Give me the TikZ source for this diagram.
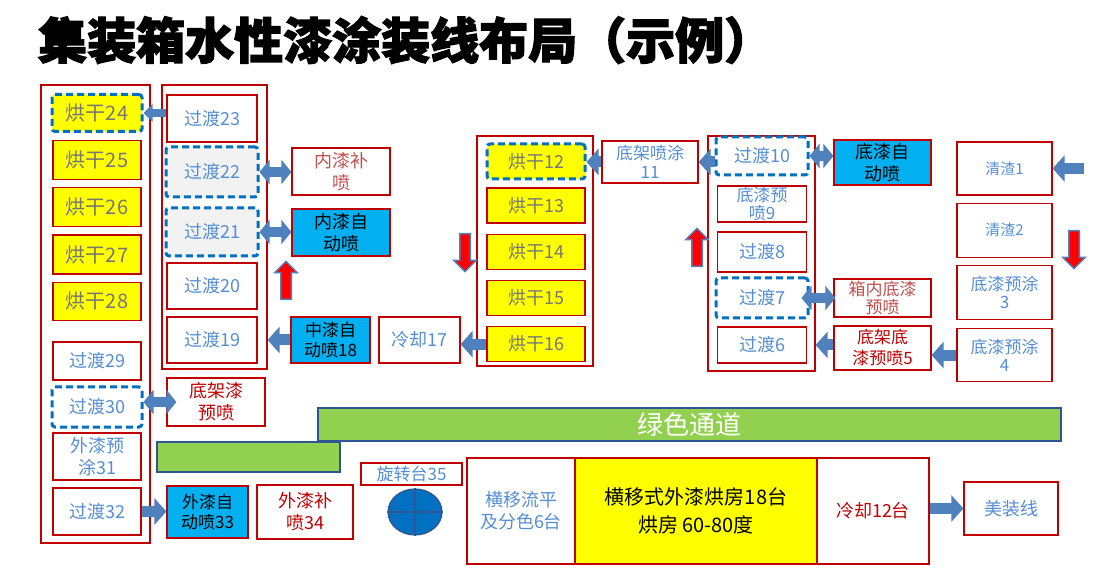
\documentclass[tikz,border=0pt]{standalone}
\usepackage{fontspec}
\usetikzlibrary{positioning, arrows.meta, shapes.arrows, shapes.geometric}
\newfontfamily\cjk{Noto Sans CJK SC}
\newfontfamily\cjkheavy{Noto Sans CJK SC}[FakeBold=2.5]
\newcommand{\fsz}[1]{\fontsize{#1}{\numexpr#1*6/5\relax}\selectfont}
\definecolor{boxred}{RGB}{192, 0, 0}
\definecolor{fixred}{RGB}{192, 80, 77}
\definecolor{txtblue}{RGB}{85, 142, 213}
\definecolor{drygray}{RGB}{118, 118, 118}
\definecolor{dryyellow}{RGB}{255, 255, 0}
\definecolor{autocyan}{RGB}{0, 176, 240}
\definecolor{dashblue}{RGB}{0, 112, 192}
\definecolor{arrowblue}{RGB}{79, 129, 189}
\definecolor{passgreen}{RGB}{146, 208, 80}
\definecolor{barblue}{RGB}{47, 85, 151}
\definecolor{holdgray}{RGB}{242, 242, 242}

\begin{document}
\begin{tikzpicture}[x=1pt, y=-1pt,
  every node/.style={font=\cjk\fsz{18}},
  sz/.style 2 args={minimum width=#1, minimum height=#2},
  stn/.style={rectangle, draw=boxred, line width=1.2pt, fill=white,
    text=txtblue, align=center, inner sep=1pt},
  dry/.style={stn, fill=dryyellow, text=drygray},
  spray/.style={stn, fill=autocyan, text=black},
  fix/.style={stn, text=boxred},
  dashbox/.style={draw=dashblue, line width=3pt,
    dash pattern=on 7pt off 4pt, rounded corners=3pt},
  lane/.style={rectangle, draw=boxred, line width=1.2pt, inner sep=0pt},
  bar/.style={rectangle, fill=passgreen, draw=barblue, line width=1.5pt,
    inner sep=0pt},
  flow/.style={-{Triangle[length=12pt, width=26pt]}, line width=11pt,
    arrowblue},
  twoway/.style={{Triangle[length=10pt, width=24pt]}-{Triangle[length=10pt,
    width=24pt]}, line width=10pt, arrowblue},
  redarrow/.style={single arrow, draw=arrowblue, fill=red, line width=1.5pt,
    inner sep=4.5pt, single arrow head extend=6pt, minimum height=38pt,
    shape border rotate=#1}
]
\fill[white] (0,0) rectangle (1109,577);
\useasboundingbox (0,0) rectangle (1109,577);

% -- Title --------------------------------------------------------------------
\node[anchor=west, inner sep=0pt, font=\cjkheavy\bfseries\fsz{49}]
  (title) at (38,40) {集装箱水性漆涂装线布局（示例）};

% -- Lanes --------------------------------------------------------------------
\node[lane, sz={109}{458}] (lane1) at (95.5,314) {};
\node[lane, sz={105}{284}] (lane2) at (214.5,227) {};
\node[lane, sz={116}{230}] (lane3) at (535,251) {};
\node[lane, sz={107}{235}] (lane4) at (761.5,253.5) {};

% -- Left column: drying 24-28, 29-32 ------------------------------------------
\node[dry, dashbox, sz={90}{37}, font=\cjk\fsz{20}] (d24) at (97,113) {烘干24};
\node[dry, sz={88}{39}, font=\cjk\fsz{20}, below=7pt of d24] (d25) {烘干25};
\node[dry, sz={88}{39}, font=\cjk\fsz{20}, below=7pt of d25] (d26) {烘干26};
\node[dry, sz={88}{39}, font=\cjk\fsz{20}, below=7pt of d26] (d27) {烘干27};
\node[dry, sz={88}{38}, font=\cjk\fsz{20}, below=7pt of d27] (d28) {烘干28};

\node[stn, sz={88}{38}] (t29) at (97,361) {过渡29};
\node[stn, dashbox, sz={90}{40}] (t30) at (97,407) {过渡30};
\node[stn, sz={88}{47}] (p31) at (97,456.5) {外漆预\\涂31};
\node[stn, sz={88}{47}] (t32) at (97,511.5) {过渡32};

% -- Second column: 19-23 ------------------------------------------------------
\node[stn, sz={90}{47}] (t23) at (212,118.5) {过渡23};
\node[stn, dashbox, fill=holdgray, sz={92}{50}] (t22) at (212,172) {过渡22};
\node[stn, dashbox, fill=holdgray, sz={92}{48}] (t21) at (212,232) {过渡21};
\node[stn, sz={90}{46}] (t20) at (212,286) {过渡20};
\node[stn, sz={90}{46}] (t19) at (212,340) {过渡19};

\node[fix, text=fixred, sz={98}{47}] (nfix) at (341,171.5) {内漆补\\喷};
\node[spray, sz={98}{47}] (nauto) at (341,232.5) {内漆自\\动喷};
\node[spray, sz={79}{46}, font=\cjk\fsz{17}] (mauto) at (330.5,340) {中漆自\\动喷18};
\node[stn, sz={81}{46}] (cool17) at (419.5,340) {冷却17};
\node[fix, sz={98}{48}] (bfix) at (216,402) {底架漆\\预喷};

% -- Third column: drying 12-16 ------------------------------------------------
\node[dry, dashbox, sz={98}{35}] (d12) at (536,161.5) {烘干12};
\node[dry, sz={98}{35}, below=7pt of d12] (d13) {烘干13};
\node[dry, sz={98}{35}, below=10pt of d13] (d14) {烘干14};
\node[dry, sz={98}{35}, below=10pt of d14] (d15) {烘干15};
\node[dry, sz={98}{35}, below=10pt of d15] (d16) {烘干16};
\node[stn, sz={96}{42}, font=\cjk\fontsize{17}{19}\selectfont]
  (s11) at (650,162) {底架喷涂\\11};

% -- Fourth column: 6-10 -------------------------------------------------------
\node[stn, dashbox, sz={92}{38}] (t10) at (762,156) {过渡10};
\node[stn, sz={89}{36}, font=\cjk\fontsize{17}{18}\selectfont]
  (p9) at (762,204) {底漆预\\喷9};
\node[stn, sz={89}{40}] (t8) at (762,252) {过渡8};
\node[stn, dashbox, sz={92}{40}] (t7) at (762,298) {过渡7};
\node[stn, sz={89}{36}] (t6) at (762,345) {过渡6};

\node[spray, sz={97}{45}] (bauto) at (882.5,162.5) {底漆自\\动喷};
\node[fix, text=fixred, sz={97}{38}, font=\cjk\fontsize{17}{18}\selectfont]
  (bin) at (882.5,298) {箱内底漆\\预喷};
\node[fix, sz={97}{44}, font=\cjk\fontsize{17}{21}\selectfont]
  (bpre) at (882.5,348) {底架底\\漆预喷5};

% -- Fifth column: 1-4 ---------------------------------------------------------
\node[stn, sz={95}{53}, font=\cjk\fsz{15}] (c1) at (1004.5,168.5) {清渣1};
\node[stn, sz={95}{54}, font=\cjk\fsz{15}, below=7pt of c1] (c2) {清渣2};
\node[stn, sz={95}{54}, font=\cjk\fontsize{17}{18}\selectfont,
  below=7pt of c2] (p3) {底漆预涂\\3};
\node[stn, sz={95}{53}, font=\cjk\fontsize{17}{18}\selectfont,
  below=8pt of p3] (p4) {底漆预涂\\4};
\coordinate (feed) at (1084,168.5);

% -- Green passage -------------------------------------------------------------
\node[bar, sz={743}{33}, text=white, font=\cjk\fsz{26}]
  (pass) at (689.5,424.5) {绿色通道};
\node[bar, sz={183}{30}] (pass2) at (248.5,457) {};

% -- Bottom row ----------------------------------------------------------------
\node[spray, sz={81}{52}, font=\cjk\fsz{17}] (oauto) at (207.5,512) {外漆自\\动喷33};
\node[fix, sz={96}{54}] (ofix) at (305,512) {外漆补\\喷34};
\node[fix, text=txtblue, sz={101}{22}, font=\cjk\fsz{17}]
  (turnlbl) at (411.5,474) {旋转台35};
\node[ellipse, fill=dashblue, draw=barblue, line width=1.2pt, inner sep=0pt,
  sz={54}{46}] (turn) at (415,512) {};
\draw[barblue, line width=1.5pt] (turn.north) -- (turn.south)
  (turn.west) -- (turn.east);

\node[stn, sz={108}{106}] (shift) at (521,511) {横移流平\\及分色6台};
\node[stn, fill=dryyellow, text=black, sz={242}{106},
  font=\cjk\fontsize{20}{28}\selectfont]
  (oven) at (696,511) {横移式外漆烘房18台\\烘房 60-80度};
\node[fix, sz={112}{106}] (cool12) at (873,511) {冷却12台};
\node[stn, sz={94}{53}] (decor) at (1011,508.5) {美装线};

% -- Red direction arrows ------------------------------------------------------
\node[redarrow=90] (up20) at (286,283) {};
\node[redarrow=270] (down14) at (465,250) {};
\node[redarrow=90] (up8) at (697,250) {};
\node[redarrow=270] (down2) at (1074,247) {};

% -- Flow arrows ---------------------------------------------------------------
\draw[flow, line width=8pt, -{Triangle[length=9pt, width=17pt]}]
  (d24.east -| t23.west) -- (d24.east);
\draw[twoway] (t22.east) -- (t22.east -| nfix.west);
\draw[twoway] (t21.east) -- (t21.east -| nauto.west);
\draw[flow] (mauto.west) -- (mauto.west -| lane2.east);
\draw[flow] (d16.west) -- (d16.west -| cool17.east);
\draw[flow] (s11.west) -- (s11.west -| d12.east);
\draw[flow] (s11.east -| t10.west) -- (s11.east);
\draw[twoway] (t10.east) -- (t10.east -| bauto.west);
\draw[twoway] ([xshift=-8pt]t7.east) -- ([xshift=2pt]t7.east -| bin.west);
\draw[flow] (t6.east -| bpre.west) -- (t6.east -| lane4.east);
\draw[flow] (p4.west) -- (p4.west -| bpre.east);
\draw[flow] (feed) -- (c1.east);
\draw[twoway] (bfix.west -| t30.east) -- ([xshift=10pt]bfix.west);
\draw[flow] (t32.east) -- (t32.east -| oauto.west);
\draw[flow] (decor.west -| cool12.east) -- (decor.west);

\end{tikzpicture}
\end{document}
